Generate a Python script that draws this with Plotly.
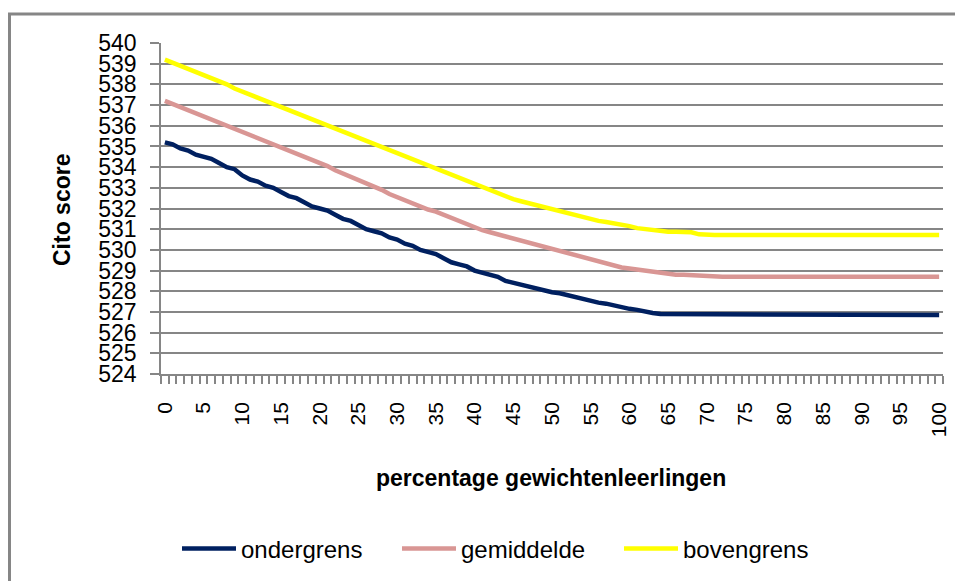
import plotly.graph_objects as go

x_values = list(range(0, 101))
x_tick_labels = [str(v) for v in range(0, 101, 5)]

ondergrens = [
    535.2, 535.1, 534.9, 534.8, 534.6, 534.5, 534.4, 534.2, 534.0, 533.9,
    533.6, 533.4, 533.3, 533.1, 533.0, 532.8, 532.6, 532.5, 532.3, 532.1,
    532.0, 531.9, 531.7, 531.5, 531.4, 531.2, 531.0, 530.9, 530.8, 530.6,
    530.5, 530.3, 530.2, 530.0, 529.9, 529.8, 529.6, 529.4, 529.3, 529.2,
    529.0, 528.9, 528.8, 528.7, 528.5, 528.4, 528.3, 528.2, 528.1, 528.0,
    527.95, 527.9, 527.8, 527.7, 527.6, 527.5, 527.45, 527.4, 527.3, 527.2,
    527.15, 527.1, 527.0, 526.95, 526.9, 526.9, 526.85, 526.85, 526.85, 526.85,
    526.85, 526.85, 526.85, 526.85, 526.85, 526.85, 526.85, 526.85, 526.85, 526.85,
    526.85, 526.85, 526.85, 526.85, 526.85, 526.85, 526.85, 526.85, 526.85, 526.85,
    526.85, 526.85, 526.85, 526.85, 526.85, 526.85, 526.85, 526.85, 526.85, 526.85,
    526.85,
]

gemiddelde = [
    537.2, 537.05, 536.9, 536.75, 536.6, 536.45, 536.3, 536.15, 536.0, 535.9,
    535.75, 535.6, 535.45, 535.3, 535.15, 535.0, 534.85, 534.7, 534.5, 534.35,
    534.2, 534.05, 533.85, 533.7, 533.5, 533.35, 533.2, 533.05, 532.9, 532.7,
    532.55, 532.4, 532.2, 532.05, 531.95, 531.85, 531.7, 531.5, 531.35, 531.2,
    531.05, 530.95, 530.85, 530.75, 530.6, 530.5, 530.4, 530.3, 530.2, 530.1,
    530.0, 529.9, 529.8, 529.7, 529.6, 529.5, 529.43, 529.35, 529.25, 529.15,
    529.1, 529.05, 528.95, 528.9, 528.85, 528.82, 528.8, 528.8, 528.78, 528.75,
    528.7, 528.7, 528.7, 528.7, 528.7, 528.7, 528.7, 528.7, 528.7, 528.7,
    528.7, 528.7, 528.7, 528.7, 528.7, 528.7, 528.7, 528.7, 528.7, 528.7,
    528.7, 528.7, 528.7, 528.7, 528.7, 528.7, 528.7, 528.7, 528.7, 528.7,
    528.7,
]

bovengrens = [
    539.2, 539.05, 538.9, 538.8, 538.6, 538.5, 538.3, 538.15, 538.0, 537.8,
    537.65, 537.5, 537.35, 537.2, 537.05, 536.9, 536.75, 536.6, 536.45, 536.3,
    536.15, 536.0, 535.85, 535.7, 535.55, 535.4, 535.25, 535.1, 534.95, 534.8,
    534.65, 534.5, 534.35, 534.2, 534.05, 533.95, 533.8, 533.6, 533.45, 533.3,
    533.15, 533.0, 532.9, 532.75, 532.6, 532.45, 532.35, 532.25, 532.15, 532.05,
    531.95, 531.85, 531.75, 531.65, 531.55, 531.45, 531.4, 531.35, 531.3, 531.25,
    531.15, 531.05, 531.0, 530.95, 530.9, 530.88, 530.88, 530.88, 530.85, 530.75,
    530.72, 530.72, 530.72, 530.72, 530.72, 530.72, 530.72, 530.72, 530.72, 530.72,
    530.72, 530.72, 530.72, 530.72, 530.72, 530.72, 530.72, 530.72, 530.72, 530.72,
    530.72, 530.72, 530.72, 530.72, 530.72, 530.72, 530.72, 530.72, 530.72, 530.72,
    530.72,
]

series_names = ["ondergrens", "gemiddelde", "bovengrens"]
series_colors = ["#002060", "#D99694", "#FFFF00"]
y_tick_values = list(range(524, 541))

L, R, T, B = 161, 943, 43, 374
W, H = 955, 581
pw, ph = R - L, B - T

def px(xp):
    return (xp - L) / pw

def py(yp):
    return (B - yp) / ph

legend_ids = ["legend", "legend2", "legend3"]
legend_left_px = [177, 397, 619]

fig = go.Figure()
for name, vals, col, lid in zip(series_names, [ondergrens, gemiddelde, bovengrens], series_colors, legend_ids):
    fig.add_trace(go.Scatter(x=x_values, y=vals, name=name, mode="lines",
                             line=dict(color=col, width=4.5), legend=lid))

grid_col = "#868686"
legend_common = dict(orientation="h", xanchor="left", y=py(549), yanchor="middle",
                     font=dict(size=24), itemwidth=54, bgcolor="rgba(0,0,0,0)")

fig.update_layout(
    width=W, height=H,
    margin=dict(l=L, r=W - R, t=T, b=H - B, autoexpand=False),
    paper_bgcolor="white", plot_bgcolor="white",
    font=dict(family="Liberation Sans, Arial, sans-serif", color="black"),
    showlegend=True,
    legend=dict(x=px(legend_left_px[0]), **legend_common),
    legend2=dict(x=px(legend_left_px[1]), **legend_common),
    legend3=dict(x=px(legend_left_px[2]), **legend_common),
    xaxis=dict(
        range=[-0.5, 100.5], tickmode="array",
        tickvals=list(range(0, 101, 5)), ticktext=x_tick_labels,
        tickangle=-90, ticks="", showgrid=False, zeroline=False, automargin=False,
        showline=True, linecolor=grid_col, linewidth=1.5,
        tickfont=dict(size=21), ticklabelstandoff=18,
        minor=dict(tick0=-0.5, dtick=1, ticks="outside", ticklen=8,
                   tickcolor=grid_col, tickwidth=1.5, showgrid=False),
    ),
    yaxis=dict(
        range=[524, 540], tickmode="array", tickvals=y_tick_values,
        ticks="outside", ticklen=9, tickcolor=grid_col, tickwidth=1.5,
        showgrid=True, gridcolor=grid_col, gridwidth=1.5, zeroline=False, automargin=False,
        showline=True, linecolor=grid_col, linewidth=1.5,
        tickfont=dict(size=23), ticklabelstandoff=9,
    ),
    annotations=[
        dict(text="<b>percentage gewichtenleerlingen</b>", xref="paper", yref="paper",
             x=px(551), y=py(478), xanchor="center", yanchor="middle", showarrow=False,
             font=dict(size=23)),
        dict(text="<b>Cito score</b>", xref="paper", yref="paper", textangle=-90,
             x=px(62), y=py(210), xanchor="center", yanchor="middle", showarrow=False,
             font=dict(size=23)),
    ],
    shapes=[
        dict(type="rect", xref="paper", yref="paper",
             x0=px(9.5), x1=px(990), y0=py(620), y1=py(14),
             line=dict(color="#868686", width=3), fillcolor="rgba(0,0,0,0)", layer="below"),
    ],
)

fig.write_html("out.html", config={"displayModeBar": False},
               post_script="document.body.style.margin='0px';")
